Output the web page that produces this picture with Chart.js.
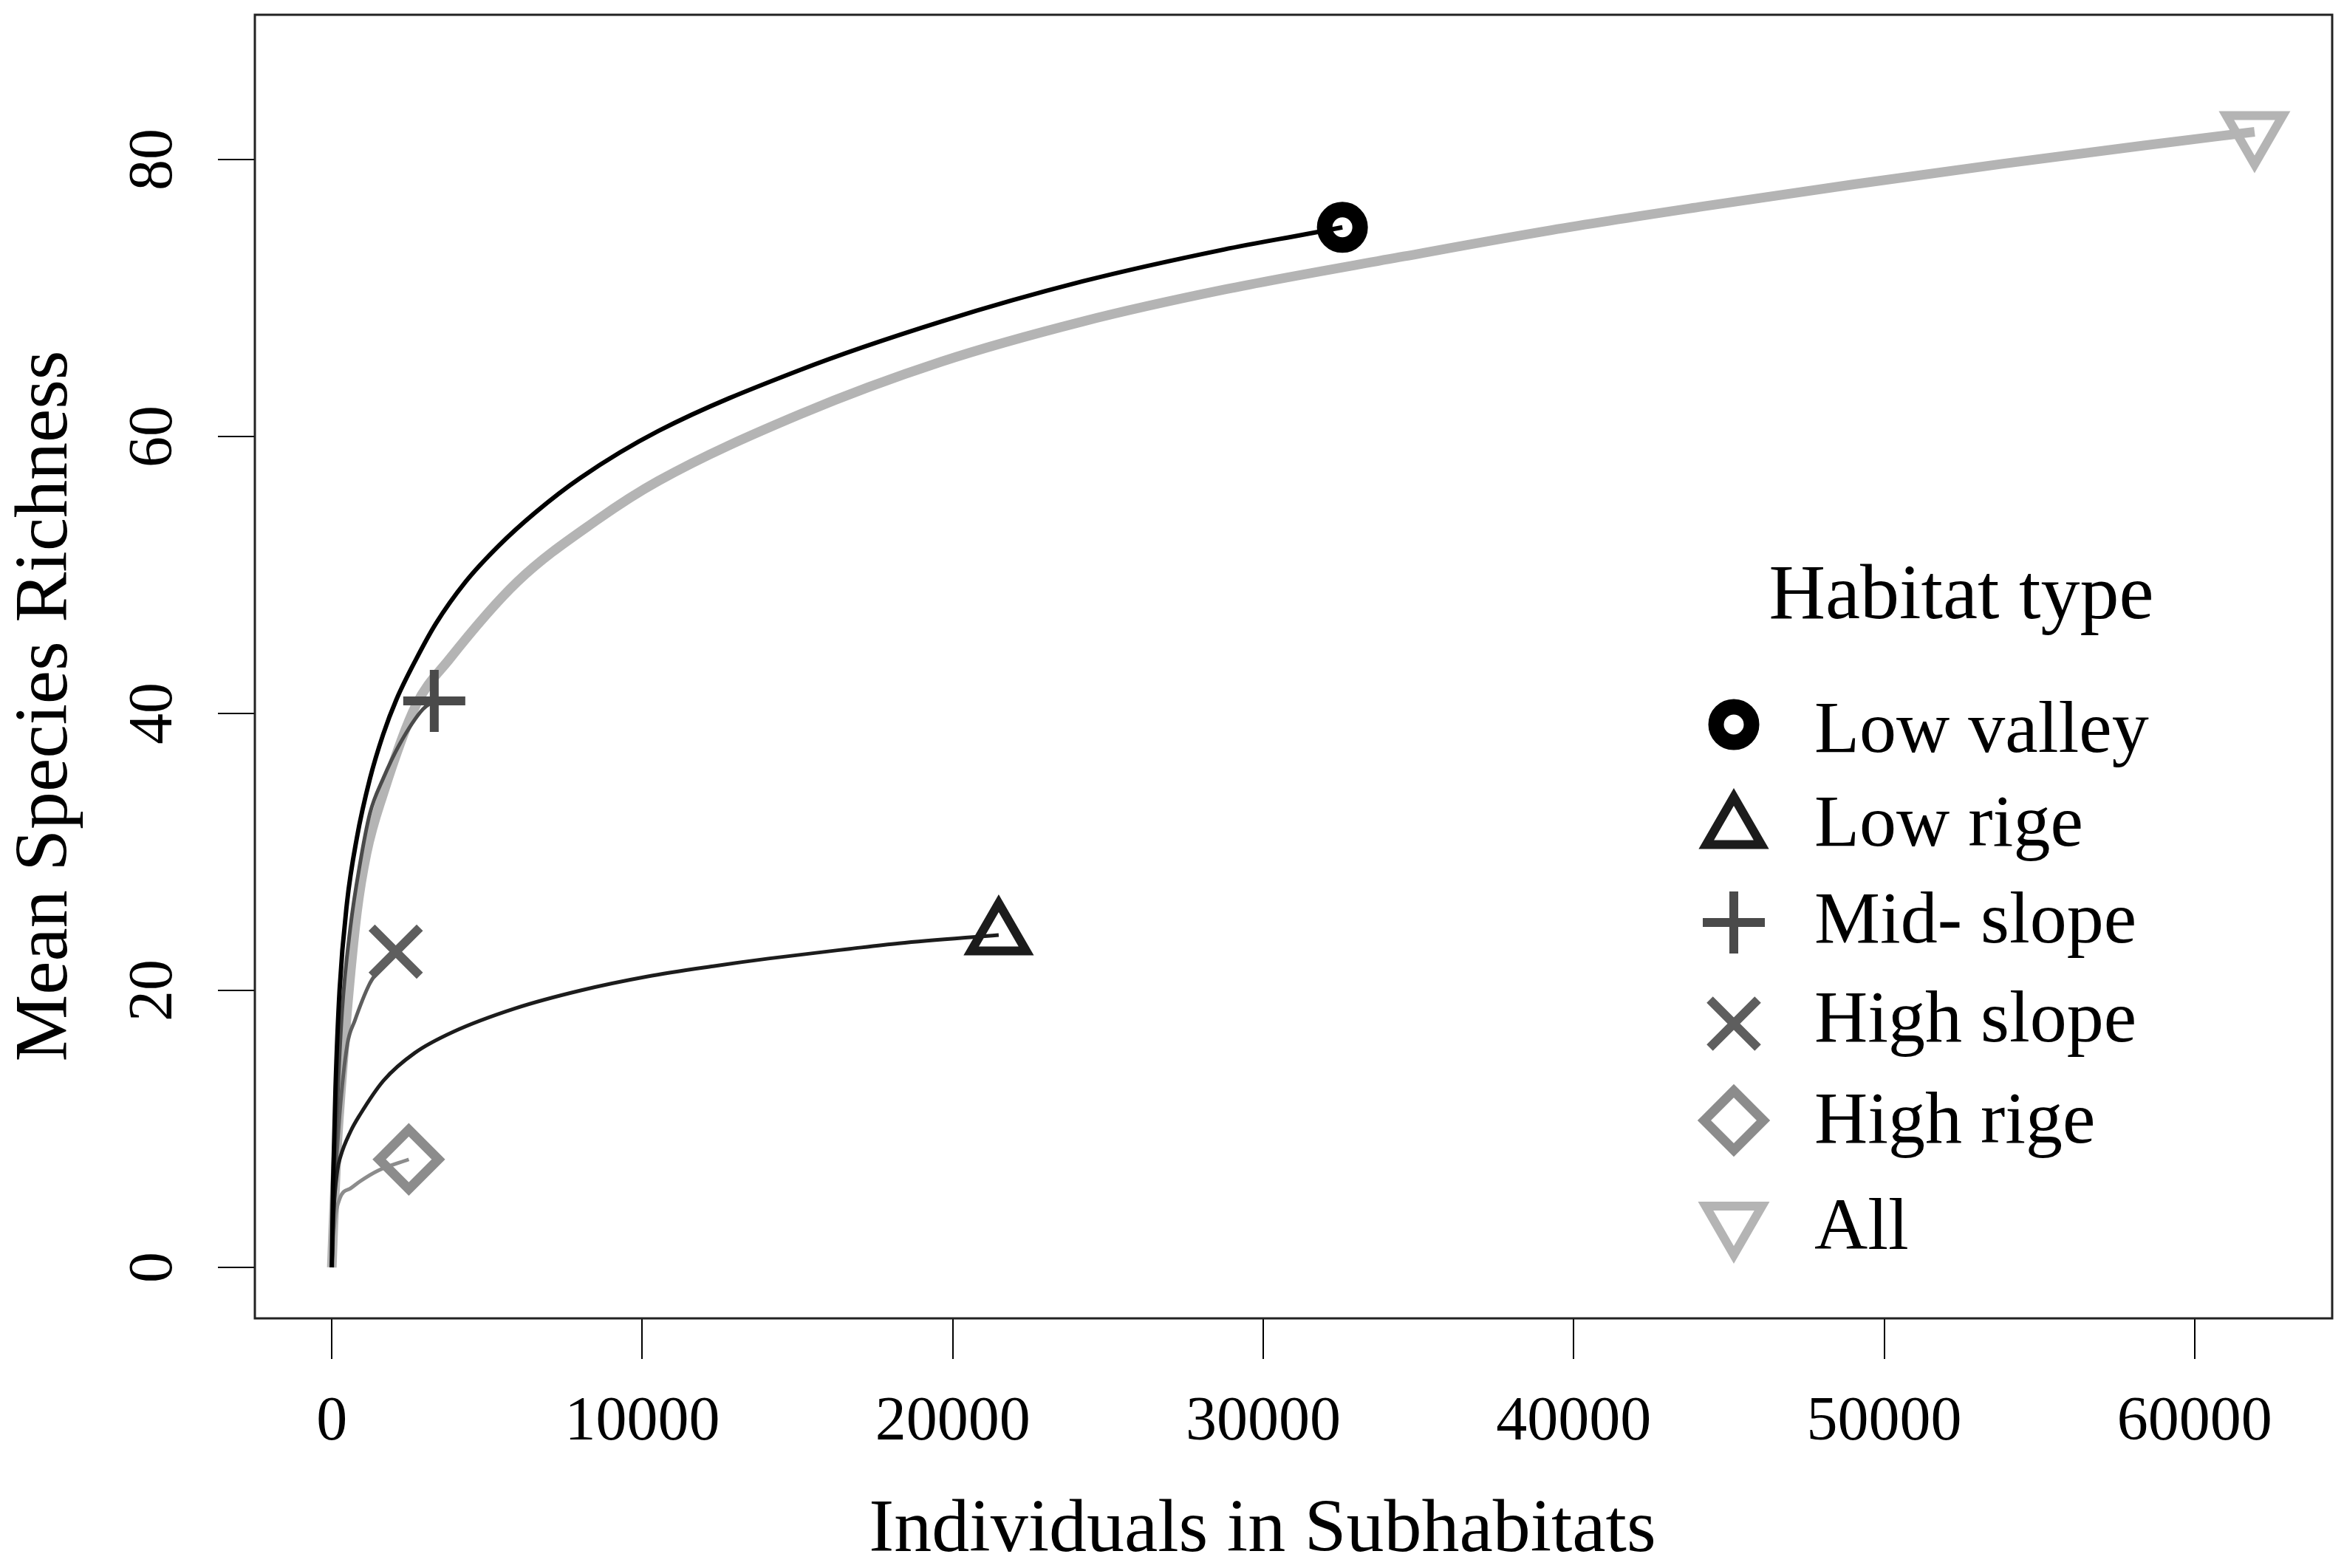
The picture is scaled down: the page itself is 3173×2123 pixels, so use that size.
<!DOCTYPE html>
<html>
<head>
<meta charset="utf-8">
<title>Mean species richness by habitat type</title>
<script src="https://cdn.jsdelivr.net/npm/chart.js@4.4.1/dist/chart.umd.min.js"></script>
<style>
  html, body { margin: 0; padding: 0; background: #fff; }
  #wrap { width: 3173px; height: 2123px; position: relative; }
</style>
</head>
<body>
<div id="wrap"><canvas id="curveChart"></canvas></div>
<script>
/**
 * Data: [individuals, mean species richness]
 */
const lowValley = [
  [0, 0], [40, 6], [120, 13], [250, 20], [488, 26.3], [806, 31.0], [1230, 35.3],
  [1656, 38.5], [2080, 41.0], [2712, 43.9], [3355, 46.5], [4306, 49.5], [5372, 52.1],
  [6550, 54.5], [8000, 57.0], [10524, 60.4], [15077, 64.8], [19630, 68.3],
  [24181, 71.2], [28732, 73.5], [31350, 74.6], [32550, 75.1]
];
const lowRige = [
  [0, 0], [60, 4], [180, 7], [280, 8.0], [600, 9.8], [900, 11.0], [1670, 13.5],
  [2680, 15.5], [3900, 17.0], [5900, 18.7], [8018, 20.0], [10150, 21.0],
  [12280, 21.75], [14060, 22.3], [16680, 23.0], [18265, 23.4], [21480, 24.0]
];
const midSlope = [
  [0, 0], [60, 5], [167, 11.3], [328, 18.4], [595, 24.5], [912, 29.2], [1230, 32.8],
  [1656, 35.3], [2190, 37.8], [2930, 40.3], [3300, 40.9]
];
const highSlope = [
  [0, 0], [80, 5], [250, 11], [500, 16.1], [738, 17.8], [1200, 20.4], [1450, 21.3],
  [1800, 22.3], [2060, 22.8]
];
const highRige = [
  [0, 0], [60, 2.5], [262, 5.0], [600, 5.7], [900, 6.2], [1500, 7.0], [2480, 7.8]
];
const allHabitats = [
  [0, 0], [50, 3], [150, 8], [300, 13], [488, 18.4], [806, 25.6], [1118, 29.9],
  [1656, 34.2], [2712, 40.6], [3780, 43.9], [5972, 49.5], [8560, 54.0], [10524, 56.8],
  [15077, 61.6], [19630, 65.4], [24181, 68.3], [28732, 70.6], [34523, 73.0],
  [39282, 74.9], [44135, 76.6], [48990, 78.2], [53842, 79.7], [58315, 81.0], [61930, 82.0]
];
const seriesLabels = ['Low valley', 'Low rige', 'Mid- slope', 'High slope', 'High rige', 'All'];
const xTicks = [0, 10000, 20000, 30000, 40000, 50000, 60000];
const yTicks = [0, 20, 40, 60, 80];
const X_TITLE = 'Individuals in Subhabitats';
const Y_TITLE = 'Mean Species Richness';
const LEGEND_TITLE = 'Habitat type';

const FONT = "'Liberation Serif', 'Times New Roman', serif";

//////////////////////////////////////////////////////////////////

/**
 * Marker only on the last point of a curve
 */
function endOnly(r) {
  return function (c) {
    return c.dataIndex === c.dataset.data.length - 1 ? r : 0;
  };
}

function makeSeries(label, data, color, lineWidth, style, r, bw, rot) {
  return {
    label: label,
    data: data,
    borderColor: color,
    borderWidth: lineWidth,
    borderJoinStyle: 'round',
    fill: false,
    pointStyle: style,
    pointRotation: rot || 0,
    pointRadius: endOnly(r),
    pointHoverRadius: endOnly(r),
    pointBorderWidth: bw,
    pointBorderColor: color,
    pointBackgroundColor: 'rgba(0,0,0,0)',
    markerRadius: r
  };
}

/**
 * Fixed scale size, no overflow padding (keeps the plot box where it is)
 */
function fixSize(w, h) {
  return function (s) {
    if (w) s.width = w;
    if (h) s.height = h;
    s.paddingLeft = 0;
    s.paddingRight = 0;
    s.paddingTop = 0;
    s.paddingBottom = 0;
  };
}

/**
 * Box, axis titles and the in-plot legend
 */
const framePlugin = {
  id: 'framePlugin',
  afterDraw(chart) {
    const ctx = chart.ctx;
    const a = chart.chartArea;
    ctx.save();
    ctx.strokeStyle = '#222';
    ctx.lineWidth = 3;
    ctx.strokeRect(a.left, a.top, a.right - a.left, a.bottom - a.top);

    ctx.fillStyle = '#000';
    ctx.textAlign = 'center';
    ctx.textBaseline = 'alphabetic';
    ctx.font = '102px ' + FONT;
    ctx.fillText(X_TITLE, 1709, 2100);
    ctx.save();
    ctx.translate(90, 956);
    ctx.rotate(-Math.PI / 2);
    ctx.fillText(Y_TITLE, 0, 0);
    ctx.restore();

    // legend
    ctx.font = '106px ' + FONT;
    ctx.fillText(LEGEND_TITLE, 2655, 837);
    const symY = [981, 1122, 1249, 1386, 1517, 1655];
    const textY = [1018, 1145, 1276, 1410, 1547, 1691];
    ctx.font = '100px ' + FONT;
    ctx.textAlign = 'left';
    chart.data.datasets.forEach(function (ds, i) {
      ctx.fillStyle = 'rgba(0,0,0,0)';
      ctx.strokeStyle = ds.borderColor;
      ctx.lineWidth = ds.pointBorderWidth;
      Chart.helpers.drawPoint(ctx, {
        pointStyle: ds.pointStyle,
        rotation: ds.pointRotation,
        radius: ds.markerRadius,
        borderWidth: ds.pointBorderWidth
      }, 2347, symY[i]);
      ctx.fillStyle = '#000';
      ctx.fillText(ds.label, 2456, textY[i]);
    });
    ctx.restore();
  }
};

/////////////////////////////////////////////////////////////////////////////

Chart.defaults.font.family = FONT;
Chart.defaults.color = '#000';

const datasets = [
  makeSeries(seriesLabels[0], lowValley, '#000000', 6, 'circle', 24, 21),
  makeSeries(seriesLabels[1], lowRige, '#1c1c1c', 5, 'triangle', 43, 12),
  makeSeries(seriesLabels[2], midSlope, '#4a4a4a', 5, 'cross', 42, 12),
  makeSeries(seriesLabels[3], highSlope, '#5e5e5e', 5, 'crossRot', 46, 12),
  makeSeries(seriesLabels[4], highRige, '#8c8c8c', 5, 'rectRot', 40, 13),
  makeSeries(seriesLabels[5], allHabitats, '#b4b4b4', 13, 'triangle', 44, 12, 180)
];

const config = {
  type: 'line',
  data: { datasets: datasets },
  options: {
    responsive: true,
    maintainAspectRatio: false,
    devicePixelRatio: 1,
    animation: false,
    layout: { autoPadding: false, padding: { top: 20, right: 16, left: 0, bottom: 0 } },
    elements: { line: { cubicInterpolationMode: 'monotone' } },
    plugins: { legend: { display: false }, tooltip: { enabled: false } },
    scales: {
      x: {
        type: 'linear',
        min: -2478,
        max: 64430,
        afterBuildTicks: function (s) { s.ticks = xTicks.map(function (v) { return { value: v }; }); },
        afterFit: fixSize(0, 338),
        border: { display: false },
        grid: { drawOnChartArea: false, tickLength: 55, color: '#000', lineWidth: 2 },
        ticks: {
          autoSkip: false, maxRotation: 0, minRotation: 0, padding: 37,
          font: { size: 84 }, color: '#000',
          callback: function (v) { return String(v); }
        }
      },
      y: {
        type: 'linear',
        min: -3.68,
        max: 90.45,
        afterBuildTicks: function (s) { s.ticks = yTicks.map(function (v) { return { value: v }; }); },
        afterFit: fixSize(345, 0),
        border: { display: false },
        grid: { drawOnChartArea: false, tickLength: 50, color: '#000', lineWidth: 2 },
        ticks: {
          minRotation: 90, maxRotation: 90, crossAlign: 'center', padding: 43,
          font: { size: 84 }, color: '#000',
          callback: function (v) { return String(v); }
        }
      }
    }
  },
  plugins: [framePlugin]
};

new Chart(document.getElementById('curveChart'), config);
</script>
</body>
</html>
